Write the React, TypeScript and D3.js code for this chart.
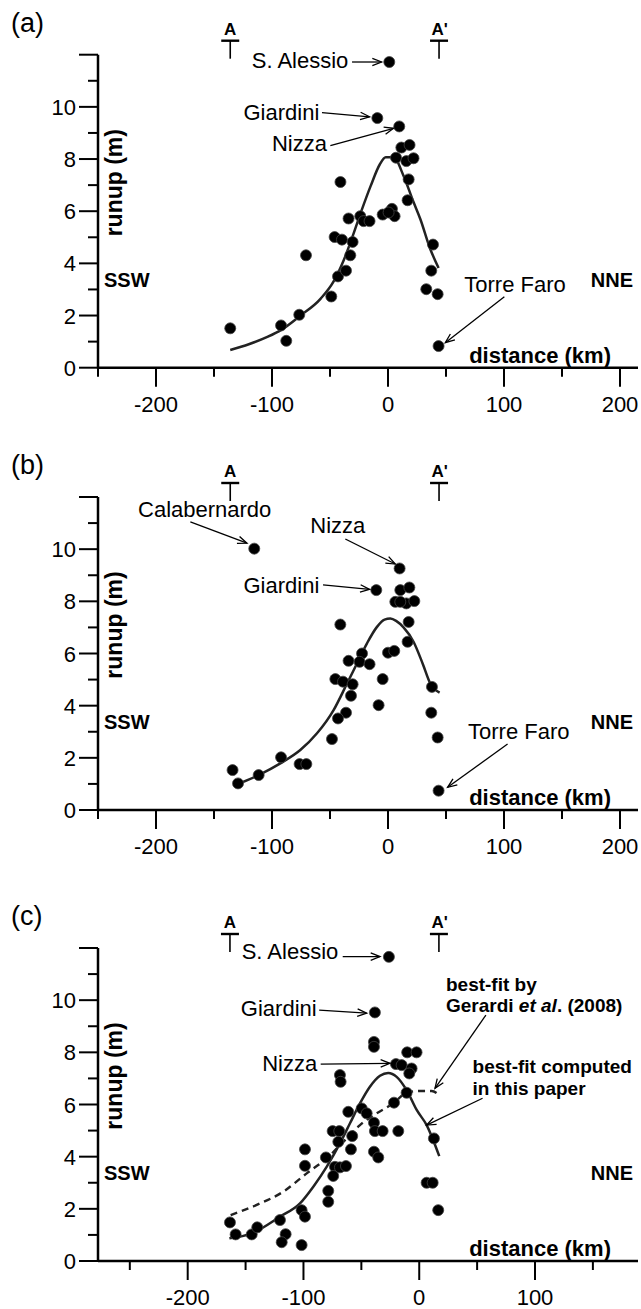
import React from 'react';
import * as d3 from 'd3';

type Pt = [number, number];

// runup observations, distance (km) vs runup (m)
const runupA: Pt[] = [
  [1.1, 11.72], [-9.2, 9.57], [9.7, 9.25], [11.5, 8.44], [18.6, 8.54], [6.9, 8.05], [15.8, 7.92], [22, 8.03],
  [17.8, 7.22], [16.9, 6.42], [-41, 7.12], [-136, 1.51], [-92.2, 1.62], [-87.7, 1.03], [-76.5, 2.03], [-70.7, 4.31],
  [-48.9, 2.73], [-43.1, 3.5], [-36.2, 3.72], [-32.5, 4.31], [-46, 5.01], [-39.7, 4.91], [-30.5, 4.82], [-34, 5.72],
  [-23.9, 5.81], [-21, 5.62], [-15.9, 5.62], [-4.6, 5.87], [3.4, 6.09], [5.7, 5.81], [0.5, 5.95], [38.8, 4.72],
  [37.3, 3.72], [33, 3.01], [42.8, 2.82], [43.6, 0.83],
];
const fitA: Pt[] = [
  [-136, 0.68], [-120, 0.9], [-104, 1.18], [-92, 1.45], [-76, 1.98], [-58, 2.65], [-47, 3.3], [-38, 4.14],
  [-30, 5.1], [-23, 6.0], [-15, 6.96], [-7, 7.8], [-2, 8.07], [5, 8.07], [13, 7.4], [22, 6.35], [28, 5.68],
  [36, 4.6], [43.6, 3.82],
];

const runupB: Pt[] = [
  [-115.3, 10.02], [10, 9.26], [-10.1, 8.43], [10.6, 8.43], [18.4, 8.53], [6.3, 7.98], [15.8, 7.92], [22.7, 8.01],
  [10.6, 7.98], [17.8, 7.21], [16.9, 6.45], [-41.1, 7.11], [0, 6.03], [5.4, 6.1], [-22.4, 6.0], [-34, 5.72],
  [-24.5, 5.68], [-15.9, 5.59], [-45.4, 5.02], [-38.8, 4.92], [-30.5, 4.82], [-4.6, 5.02], [-31.9, 4.38],
  [-8.1, 4.02], [-36.2, 3.73], [-43.1, 3.51], [-48.3, 2.72], [-92.2, 2.02], [-76.2, 1.76], [-70.4, 1.76],
  [-134, 1.53], [-129.3, 1.02], [-111.5, 1.34], [37.9, 4.72], [37.3, 3.73], [42.8, 2.78], [43.6, 0.74],
];
const fitB: Pt[] = [
  [-131.6, 0.96], [-111.5, 1.34], [-92.8, 1.79], [-75.6, 2.3], [-61.2, 2.94], [-46.9, 3.83], [-35.3, 4.85],
  [-26.7, 5.62], [-18, 6.4], [-9.5, 7.02], [-3, 7.3], [2, 7.34], [7, 7.25], [13.4, 7.0], [22, 6.45], [30, 5.6],
  [36.5, 4.85], [44.5, 4.5],
];

const runupC: Pt[] = [
  [-26.2, 11.66], [-38.3, 9.53], [-39.1, 8.4], [-39.1, 8.21], [-10.4, 8.0], [-2.3, 8.0], [-20.1, 7.55],
  [-15.2, 7.51], [-6.6, 7.38], [-8.6, 7.19], [-68.5, 7.13], [-67.9, 6.87], [-10.9, 6.45], [-21.8, 6.07],
  [-61.3, 5.72], [-49.7, 5.85], [-45.4, 5.66], [-39.1, 5.3], [-38.3, 4.98], [-31.6, 4.98], [-18.1, 4.98],
  [-74.8, 4.98], [-69.1, 4.98], [-69.9, 4.57], [-57.9, 4.79], [-59, 4.28], [-39.1, 4.19], [-35.4, 3.97],
  [12.7, 4.7], [-98.7, 4.28], [-98.7, 3.65], [-80.6, 3.97], [-72.8, 3.61], [-68.5, 3.59], [-63.3, 3.64],
  [-74.3, 3.26], [-78.6, 2.69], [-78.6, 2.27], [6.4, 3.0], [11.6, 3.0], [16.4, 1.95], [-101.6, 1.95],
  [-98.7, 1.7], [-120.3, 1.57], [-163.5, 1.48], [-158.6, 1.02], [-144.7, 1.02], [-139.9, 1.29],
  [-115.4, 1.03], [-118.8, 0.72], [-101.6, 0.61],
];
const fitC: Pt[] = [
  [-164, 0.87], [-144.7, 1.06], [-120.3, 1.7], [-103, 2.21], [-91.5, 2.85], [-80, 3.61], [-68.5, 4.51],
  [-59.8, 5.28], [-51.2, 6.04], [-42.6, 6.68], [-33.9, 7.1], [-26.8, 7.21], [-19.5, 7.06], [-10.9, 6.55],
  [-2.2, 5.79], [6.4, 5.21], [17.3, 4.02],
];
const fitGerardi: Pt[] = [
  [-162.9, 1.76], [-140.4, 2.15], [-117.4, 2.66], [-97.2, 3.36], [-80, 3.93], [-65.6, 4.57], [-51.2, 5.21],
  [-36.8, 5.66], [-22.5, 6.04], [-10.9, 6.45], [0.6, 6.52], [10.7, 6.52], [17.3, 6.36],
];

const yTicks = d3.range(0, 13);
const yLabels = [0, 2, 4, 6, 8, 10];
const xTicksAB = d3.range(-250, 201, 50);
const xLabelsAB = [-200, -100, 0, 100, 200];
const xTicksC = d3.range(-250, 151, 50);
const xLabelsC = [-200, -100, 0, 100];

type Note = {
  parts: { t: string; i?: boolean }[];
  at: Pt;
  anchor?: 'start' | 'end';
  bold?: boolean;
  size?: number;
  from?: Pt;
  to?: Pt;
  head?: boolean;
};

const notesA: Note[] = [
  { parts: [{ t: 'S. Alessio' }], at: [-34.2, 11.5], anchor: 'end', from: [-31, 11.72], to: [-5.5, 11.72], head: true },
  { parts: [{ t: 'Giardini' }], at: [-59.2, 9.5], anchor: 'end', from: [-56.9, 9.78], to: [-15.9, 9.62], head: true },
  { parts: [{ t: 'Nizza' }], at: [-52.6, 8.31], anchor: 'end', from: [-49.7, 8.51], to: [4.8, 9.18], head: true },
  { parts: [{ t: 'Torre Faro' }], at: [65.8, 2.9], from: [100.3, 2.72], to: [49.4, 0.96], head: true },
];
const notesB: Note[] = [
  { parts: [{ t: 'Calabernardo' }], at: [-215.5, 11.22], from: [-170.4, 11.05], to: [-121.6, 10.23], head: true },
  { parts: [{ t: 'Nizza' }], at: [-67, 10.61], from: [-36.8, 10.39], to: [6.3, 9.43], head: true },
  { parts: [{ t: 'Giardini' }], at: [-59.2, 8.33], anchor: 'end', from: [-56, 8.63], to: [-15.9, 8.46], head: true },
  { parts: [{ t: 'Torre Faro' }], at: [69, 2.71], from: [103.1, 2.53], to: [51.4, 0.87], head: true },
];
const notesC: Note[] = [
  { parts: [{ t: 'S. Alessio' }], at: [-69.9, 11.57], anchor: 'end', from: [-66.1, 11.67], to: [-33.9, 11.67], head: true },
  { parts: [{ t: 'Giardini' }], at: [-88.6, 9.39], anchor: 'end', from: [-86.4, 9.62], to: [-45.4, 9.5], head: true },
  { parts: [{ t: 'Nizza' }], at: [-88.1, 7.3], anchor: 'end', from: [-85.1, 7.55], to: [-25.3, 7.58], head: true },
  { parts: [{ t: 'best-fit by' }], at: [23.1, 10.36], bold: true, size: 19 },
  {
    parts: [{ t: 'Gerardi ' }, { t: 'et al', i: true }, { t: '. (2008)' }],
    at: [23.1, 9.56], bold: true, size: 19, from: [57.6, 9.43], to: [13.6, 6.62], head: true,
  },
  { parts: [{ t: 'best-fit computed' }], at: [46.1, 7.2], bold: true, size: 19 },
  { parts: [{ t: 'in this paper' }], at: [46.1, 6.36], bold: true, size: 19, from: [54.7, 6.24], to: [6.4, 5.21], head: true },
];

const FONT = "'Liberation Sans', Arial, Helvetica, sans-serif";

function headPath(x1: number, y1: number, x2: number, y2: number) {
  const a = Math.atan2(y2 - y1, x2 - x1);
  const len = 10;
  const s = 0.38;
  const p1 = [x2 - len * Math.cos(a - s), y2 - len * Math.sin(a - s)];
  const p2 = [x2 - len * Math.cos(a + s), y2 - len * Math.sin(a + s)];
  return `M${p1[0]},${p1[1]}L${x2},${y2}L${p2[0]},${p2[1]}`;
}

type PanelProps = {
  y0: number;
  tag: string;
  xDomain: Pt;
  xRange: Pt;
  xTicks: number[];
  xLabels: number[];
  points: Pt[];
  fit: Pt[];
  dashed?: Pt[];
  notes: Note[];
  ends: Pt;
};

function Panel({ y0, tag, xDomain, xRange, xTicks, xLabels, points, fit, dashed, notes, ends }: PanelProps) {
  const x = d3.scaleLinear().domain(xDomain).range(xRange);
  const y = d3.scaleLinear().domain([0, 12]).range([y0, y0 - 313]);
  const line = d3
    .line<Pt>()
    .x((d) => x(d[0]))
    .y((d) => y(d[1]))
    .curve(d3.curveMonotoneX);
  const ax = 98;

  return (
    <g fontFamily={FONT}>
      <text x={11} y={y0 - 336} fontSize={27}>{tag}</text>

      {/* section ends A - A' */}
      {ends.map((e, i) => {
        const px = x(e);
        return (
          <g key={'e' + i}>
            <text x={i === 0 ? px : px - 7.5} y={y0 - 333} fontSize={17} fontWeight="bold"
              textAnchor={i === 0 ? 'middle' : 'start'}>{i === 0 ? 'A' : "A'"}</text>
            <line x1={px - 9} x2={px + 9} y1={y0 - 327} y2={y0 - 327} stroke="#000" strokeWidth={2.4} />
            <line x1={px} x2={px} y1={y0 - 327} y2={y0 - 309} stroke="#000" strokeWidth={1.6} />
          </g>
        );
      })}

      {/* axes */}
      <line x1={ax} x2={ax} y1={y(12)} y2={y0 + 1} stroke="#000" strokeWidth={2.5} />
      <line x1={ax} x2={638} y1={y0} y2={y0} stroke="#000" strokeWidth={2.5} />
      {yTicks.map((t) => (
        <line key={'yt' + t} x1={ax - (t % 2 === 0 ? 19 : 10)} x2={ax} y1={y(t)} y2={y(t)} stroke="#000" strokeWidth={2} />
      ))}
      {yLabels.map((t) => (
        <text key={'yl' + t} x={76} y={y(t) + 8} fontSize={22} textAnchor="end">{String(t)}</text>
      ))}
      {xTicks.map((t) => (
        <line key={'xt' + t} x1={x(t)} x2={x(t)} y1={y0} y2={y0 + (t % 100 === 0 ? 19 : 9)} stroke="#000" strokeWidth={2} />
      ))}
      {xLabels.map((t) => (
        <text key={'xl' + t} x={x(t)} y={y0 + 44} fontSize={22} textAnchor="middle">{String(t)}</text>
      ))}

      <text transform={`translate(122,${y0 - 185}) rotate(-90)`} fontSize={23} fontWeight="bold" textAnchor="middle">runup (m)</text>
      <text x={104} y={y0 - 81} fontSize={20} fontWeight="bold">SSW</text>
      <text x={633} y={y0 - 81} fontSize={20} fontWeight="bold" textAnchor="end">NNE</text>
      <text x={611} y={y0 - 5} fontSize={22} fontWeight="bold" textAnchor="end">distance (km)</text>

      {/* fits */}
      {dashed && <path d={line(dashed) || ''} fill="none" stroke="#222" strokeWidth={2.4} strokeDasharray="7,5" />}
      <path d={line(fit) || ''} fill="none" stroke="#222" strokeWidth={2.5} />

      {/* observations */}
      {points.map((p, i) => (
        <circle key={'p' + i} cx={x(p[0])} cy={y(p[1])} r={5.5} fill="#000" stroke="#444" strokeWidth={0.8} />
      ))}

      {/* annotations */}
      {notes.map((n, i) => (
        <g key={'n' + i}>
          <text x={x(n.at[0])} y={y(n.at[1])} fontSize={n.size || 22} fontWeight={n.bold ? 'bold' : 'normal'}
            textAnchor={n.anchor || 'start'}>
            {n.parts.map((p, j) => (
              <tspan key={j} fontStyle={p.i ? 'italic' : 'normal'}>{p.t}</tspan>
            ))}
          </text>
          {n.from && n.to && (
            <g stroke="#000" strokeWidth={1.3} fill="none">
              <line x1={x(n.from[0])} y1={y(n.from[1])} x2={x(n.to[0])} y2={y(n.to[1])} />
              {n.head && <path d={headPath(x(n.from[0]), y(n.from[1]), x(n.to[0]), y(n.to[1]))} />}
            </g>
          )}
        </g>
      ))}
    </g>
  );
}

export default function App() {
  return (
    <svg width={641} height={1309} style={{ position: 'absolute', left: 0, top: 0, background: '#fff' }}>
      <rect width={641} height={1309} fill="#fff" />
      <Panel y0={367.7} tag="(a)" xDomain={[-250, 200]} xRange={[98, 620]} xTicks={xTicksAB} xLabels={xLabelsAB}
        points={runupA} fit={fitA} notes={notesA} ends={[-136, 44]} />
      <Panel y0={810} tag="(b)" xDomain={[-250, 200]} xRange={[98, 620]} xTicks={xTicksAB} xLabels={xLabelsAB}
        points={runupB} fit={fitB} notes={notesB} ends={[-136, 44]} />
      <Panel y0={1261} tag="(c)" xDomain={[-200, 100]} xRange={[187.7, 535]} xTicks={xTicksC} xLabels={xLabelsC}
        points={runupC} fit={fitC} dashed={fitGerardi} notes={notesC} ends={[-163.5, 17]} />
    </svg>
  );
}
